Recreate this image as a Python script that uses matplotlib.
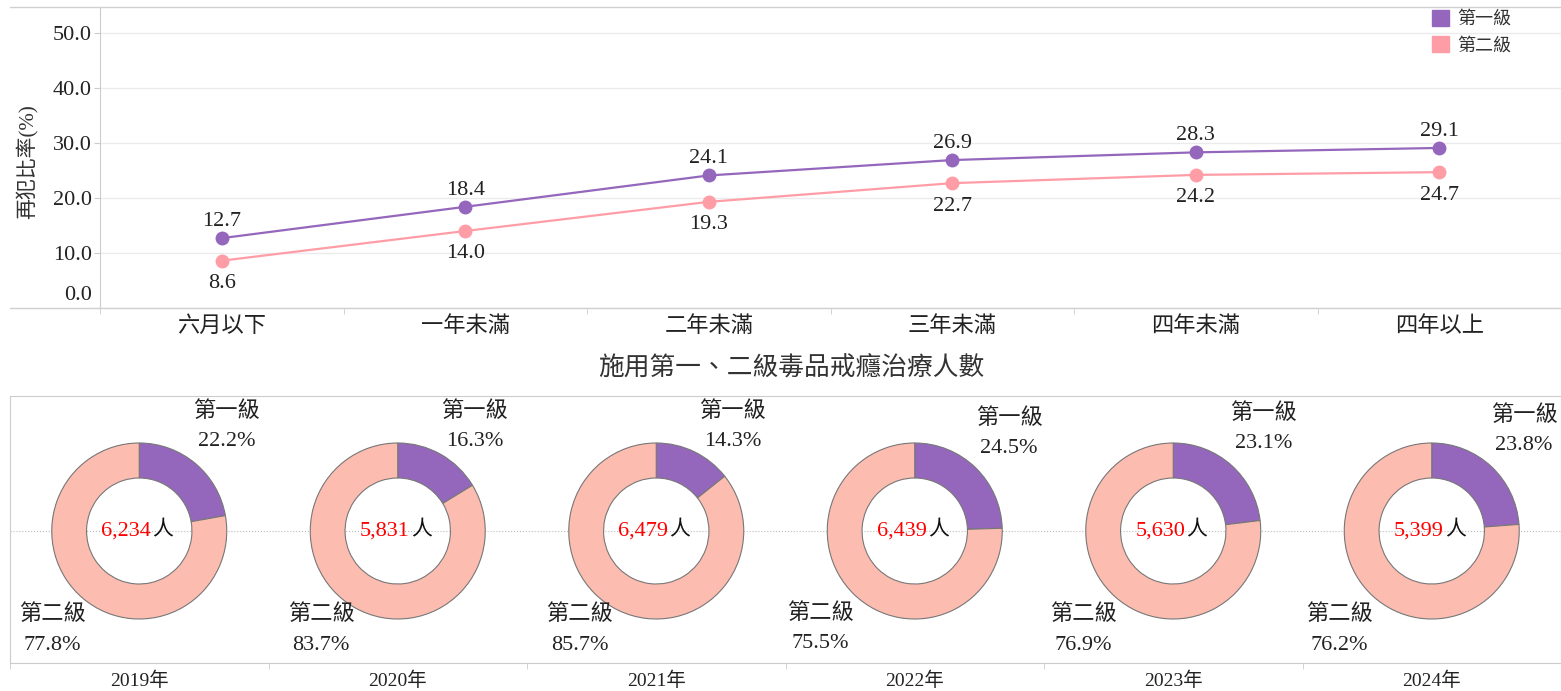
import matplotlib
matplotlib.use('Agg')
import matplotlib.pyplot as plt
import numpy as np
from matplotlib.patches import Patch
from matplotlib.lines import Line2D
from matplotlib.transforms import ScaledTranslation

plt.rcParams['font.family'] = ['Liberation Serif', 'Noto Sans CJK TC']

# ---------------- data ----------------
categories = ['六月以下', '一年未滿', '二年未滿', '三年未滿', '四年未滿', '四年以上']
level1_rates = [12.7, 18.4, 24.1, 26.9, 28.3, 29.1]
level2_rates = [8.6, 14.0, 19.3, 22.7, 24.2, 24.7]
series_names = ['第一級', '第二級']
y_ticks = [0, 10, 20, 30, 40, 50]

years = ['2019年', '2020年', '2021年', '2022年', '2023年', '2024年']
level1_share = [22.2, 16.3, 14.3, 24.5, 23.1, 23.8]
level2_share = [77.8, 83.7, 85.7, 75.5, 76.9, 76.2]
totals = [6234, 5831, 6479, 6439, 5630, 5399]

y_label = '再犯比率(%)'
pie_title = '施用第一、二級毒品戒癮治療人數'

# ---------------- style ----------------
PURPLE = '#9467bd'
PINK = '#ff9da7'
SALMON = '#fdbcb0'
GRID = '#ebebeb'
AXIS = '#cccccc'

W, H = 1561, 691
fig = plt.figure(figsize=(W / 100, H / 100), dpi=100)


def fx(px):
    return px / W


def fy(py):
    return 1 - py / H


# ---------------- line chart ----------------
ax = fig.add_axes([fx(100), fy(308), 1 - fx(100), fy(7) - fy(308)])
band = 245
ax.set_xlim(-0.5, -0.5 + (W - 100) / band)
ax.set_ylim(0, 301 / 5.5)
x = np.arange(len(categories))

ax.plot(x, level1_rates, color=PURPLE, lw=1.6, marker='o', ms=9, zorder=3)
ax.plot(x, level2_rates, color=PINK, lw=1.6, marker='o', ms=9, zorder=3)
for i, v in enumerate(level1_rates):
    ax.annotate(f'{v:.1f}', (i, v), xytext=(0, 12), textcoords='offset points',
                ha='center', va='center', fontsize=16, color='#222222')
for i, v in enumerate(level2_rates):
    ax.annotate(f'{v:.1f}', (i, v), xytext=(0, -16.5), textcoords='offset points',
                ha='center', va='center', fontsize=16, color='#222222')

ax.set_yticks(y_ticks)
ax.set_yticklabels([f'{t:.1f}' for t in y_ticks])
ax.yaxis.grid(True, color=GRID, lw=1)
ax.set_axisbelow(True)
ax.tick_params(axis='y', length=4, color=AXIS, labelsize=16, pad=2, labelcolor='#222222')
# lift the 0.0 label as in the reference
lbl0 = ax.get_yticklabels()[0]
lbl0.set_transform(lbl0.get_transform() + ScaledTranslation(0, 11 / 72, fig.dpi_scale_trans))

ax.set_xticks(x)
ax.set_xticklabels(categories)
ax.set_xticks(np.arange(-0.5, len(categories)), minor=True)
ax.tick_params(axis='x', which='major', length=0, labelsize=16, pad=6, labelcolor='#222222')
ax.tick_params(axis='x', which='minor', length=4, color=AXIS)

for s in ['top', 'right', 'bottom']:
    ax.spines[s].set_visible(False)
ax.spines['left'].set_color(AXIS)

fig.add_artist(Line2D([fx(10), 1], [fy(6.5), fy(6.5)], color='#d0d0d0', lw=1))
fig.add_artist(Line2D([fx(10), 1], [fy(308), fy(308)], color='#d0d0d0', lw=1))

fig.text(fx(28), fy(162), y_label, rotation=90, ha='center', va='center',
         fontsize=15, color='#333333')

fig.legend(handles=[Patch(color=PURPLE), Patch(color=PINK)], labels=series_names,
           loc='upper right', bbox_to_anchor=(fx(1511), fy(10)), frameon=False,
           fontsize=13, handlelength=0.95, handleheight=0.95, handletextpad=0.45,
           labelspacing=0.45, borderaxespad=0, borderpad=0, labelcolor='#333333')

# ---------------- donut charts ----------------
fig.text(fx(791), fy(368), pie_title, ha='center', va='center', fontsize=18.5, color='#333333')

ax2 = fig.add_axes([fx(10), fy(663), 1 - fx(10), fy(396) - fy(663)])
pb = 260.0
R = 88 / pb
RW = 35 / pb
for i in range(len(years)):
    ax2.pie([level1_share[i], level2_share[i]], colors=[PURPLE, SALMON], startangle=90,
            counterclock=False, radius=R, center=(i, 0), frame=True,
            wedgeprops=dict(width=RW, edgecolor='#777777', linewidth=0.8))
    # slice labels
    start = 90.0
    shares = [level1_share[i], level2_share[i]]
    cum = 0.0
    for k, sh in enumerate(shares):
        mid = np.deg2rad(start - (cum + sh / 2) * 3.6)
        cum += sh
        dx = 1.55 * R * np.cos(mid)
        dx = np.sign(dx) * max(abs(dx), 77 / pb)
        ly = 1.55 * R * np.sin(mid)
        ly = min(ly, 104 / pb) if ly > 0 else max(ly, -99 / pb)
        lx = i + dx
        ax2.text(lx, ly + 15 / pb, series_names[k], ha='center', va='center',
                 fontsize=16, color='#222222')
        ax2.text(lx, ly - 15 / pb, f'{sh:.1f}%', ha='center', va='center',
                 fontsize=16, color='#222222')
    # centre total
    ax2.text(i + 12 / pb, 0, f'{totals[i]:,}', ha='right', va='center',
             fontsize=16, color='#ff0000')
    ax2.text(i + 13 / pb, 0, '人', ha='left', va='center', fontsize=15, color='#111111')

ax2.axhline(0, color='#bbbbbb', ls=':', lw=0.8, zorder=0)
ax2.set_xlim(-0.5, -0.5 + (W - 10) / pb)
ax2.set_ylim(-132 / pb, 135 / pb)
ax2.set_aspect('auto')
ax2.set_xticks(np.arange(len(years)))
ax2.set_xticklabels(years)
ax2.set_xticks(np.arange(-0.5, len(years)), minor=True)
ax2.tick_params(axis='x', which='major', length=0, labelsize=14, pad=6, labelcolor='#222222')
ax2.tick_params(axis='x', which='minor', length=4, color=AXIS)
ax2.set_yticks([])
for s in ax2.spines.values():
    s.set_color(AXIS)

fig.savefig('out.png', dpi=100)
